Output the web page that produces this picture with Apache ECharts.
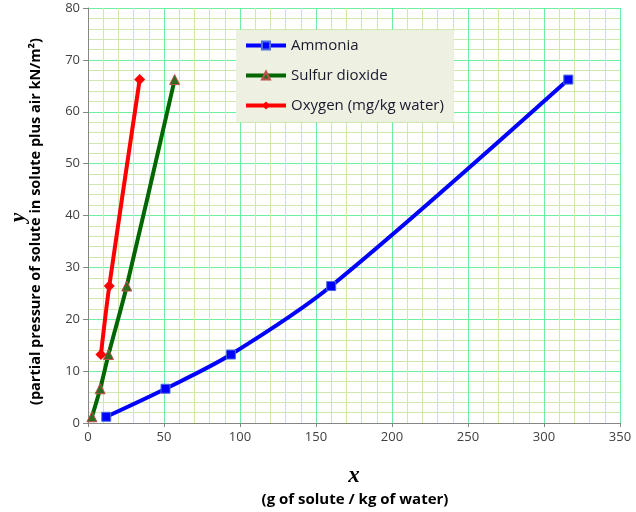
<!DOCTYPE html>
<html>
<head>
<meta charset="utf-8">
<script src="https://cdn.jsdelivr.net/npm/echarts@6/dist/echarts.min.js"></script>
<style>
  html, body { margin: 0; padding: 0; background: #fff; }
  #chart { width: 636px; height: 512px; }
</style>
</head>
<body>
<div id="chart"></div>
<script>
// values
const seriesNames = ['Ammonia', 'Sulfur dioxide', 'Oxygen (mg/kg water)'];
const pressure = [1.2, 6.6, 13.2, 26.4, 66.2];
const ammoniaX = [12, 51, 94, 160, 316];
const sulfurX = [2.6, 8, 13.5, 25.5, 57];
const oxygenX = [8.5, 14, 34];
const oxygenY = [13.2, 26.4, 66.2];

const font = 'Open Sans';

function pairs(xs, ys) {
  return xs.map((x, i) => [x, ys[i]]);
}

const majorGrid = { show: true, lineStyle: { color: '#6cf0a0', width: 1 } };
const minorGrid = { show: true, lineStyle: { color: '#cfe8b0', width: 1 } };
const axisLabel = { color: '#404040', fontFamily: font, fontSize: 13 };

const option = {
  backgroundColor: '#fff',
  animation: false,
  grid: { left: 88, right: 16, top: 8, bottom: 89 },
  legend: {
    left: 236, top: 30,
    orient: 'vertical',
    backgroundColor: '#eef0e2',
    padding: [8, 10, 9, 8],
    itemGap: 15,
    itemWidth: 40,
    itemHeight: 10,
    lineStyle: { width: 4 },
    textStyle: { fontFamily: font, fontSize: 15, color: '#1a1a2e' },
    data: seriesNames
  },
  xAxis: {
    type: 'value', min: 0, max: 350, interval: 50,
    axisLine: { show: true, lineStyle: { color: '#868686' } },
    axisTick: { show: true, length: 4, lineStyle: { color: '#868686' } },
    axisLabel: axisLabel,
    splitLine: majorGrid,
    minorTick: { show: false, splitNumber: 5 },
    minorSplitLine: minorGrid
  },
  yAxis: {
    type: 'value', min: 0, max: 80, interval: 10,
    axisLine: { show: true, lineStyle: { color: '#868686' } },
    axisTick: { show: true, length: 5, lineStyle: { color: '#868686' } },
    axisLabel: axisLabel,
    splitLine: majorGrid,
    minorTick: { show: false, splitNumber: 5 },
    minorSplitLine: minorGrid
  },
  series: [
    {
      name: seriesNames[0], type: 'line', smooth: 0.3,
      data: pairs(ammoniaX, pressure),
      symbol: 'rect', symbolSize: 9,
      lineStyle: { color: '#0000ff', width: 4 },
      itemStyle: { color: '#0000ff', borderColor: '#4a6fd8', borderWidth: 1 }
    },
    {
      name: seriesNames[1], type: 'line', smooth: 0.3,
      data: pairs(sulfurX, pressure),
      symbol: 'triangle', symbolSize: 10,
      lineStyle: { color: '#006600', width: 4 },
      itemStyle: { color: '#2e6b1e', borderColor: '#c0504d', borderWidth: 1 }
    },
    {
      name: seriesNames[2], type: 'line', smooth: 0.3,
      data: pairs(oxygenX, oxygenY),
      symbol: 'diamond', symbolSize: 11,
      lineStyle: { color: '#ff0000', width: 4 },
      itemStyle: { color: '#ff0000' }
    }
  ],
  graphic: [
    {
      type: 'text', x: 8, y: 222, rotation: Math.PI / 2,
      style: { text: 'y', font: 'italic bold 21px "Liberation Serif"', fill: '#000', align: 'left', verticalAlign: 'top' }
    },
    {
      type: 'text', x: 28, y: 405, rotation: Math.PI / 2,
      style: {
        text: '(partial pressure of solute in solute plus air kN/m\u00B2)',
        font: 'bold 14.5px "Open Sans"', fill: '#000',
        align: 'left', verticalAlign: 'top'
      }
    },
    {
      type: 'text', x: 354, y: 476,
      style: { text: 'x', font: 'italic bold 23px "Liberation Serif"', fill: '#000', align: 'center', verticalAlign: 'middle' }
    },
    {
      type: 'text', x: 355, y: 500,
      style: { text: '(g of solute / kg of water)', font: 'bold 15px "Open Sans"', fill: '#000', align: 'center', verticalAlign: 'middle' }
    }
  ]
};

const chart = echarts.init(document.getElementById('chart'));
chart.setOption(option);
</script>
</body>
</html>
